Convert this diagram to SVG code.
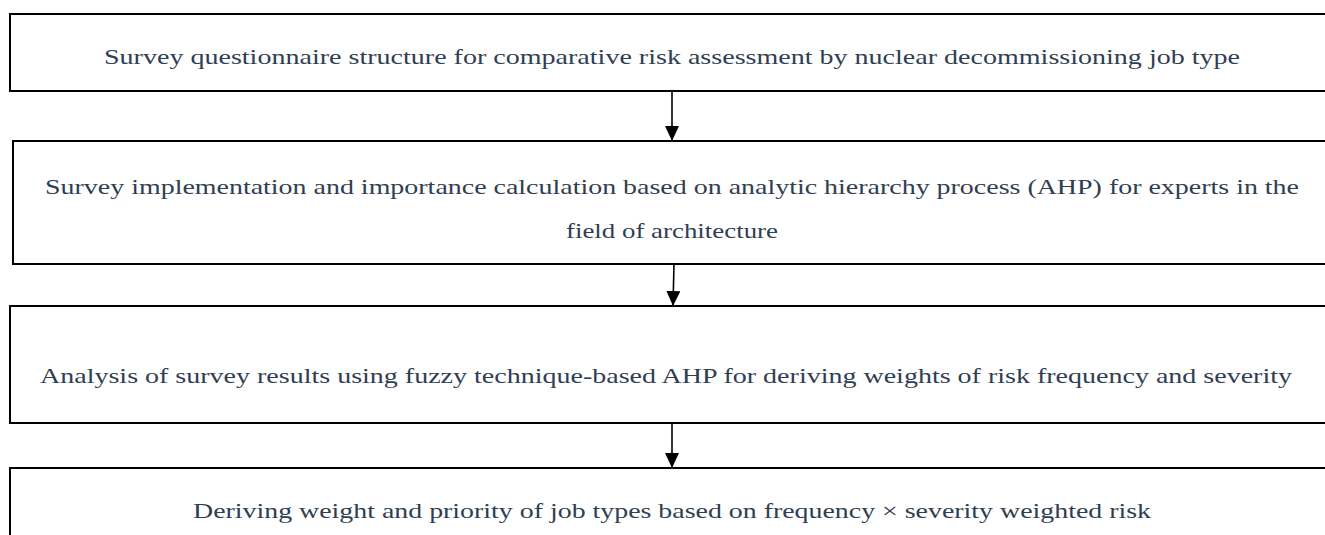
<svg xmlns="http://www.w3.org/2000/svg" width="1325" height="535" viewBox="0 0 1325 535">
  <style>
    .box { fill: #ffffff; stroke: #000000; stroke-width: 2; }
    .label { font-family: "Liberation Serif", "Times New Roman", serif; font-size: 22px; fill: #2f3e52; text-anchor: middle; }
    .link { stroke: #000000; stroke-width: 1.6; fill: none; marker-end: url(#head); }
  </style>
  <defs>
    <!-- filled triangular arrowhead, tip at the end of the line -->
    <marker id="head" viewBox="0 0 15 14" refX="15" refY="7" markerWidth="15" markerHeight="14" markerUnits="userSpaceOnUse" orient="auto">
      <path d="M0,0 L15,7 L0,14 Z" fill="#000000"/>
    </marker>
  </defs>
  <rect width="1325" height="535" fill="#ffffff"/>

  <g id="step1">
    <rect class="box" x="10" y="14" width="1330" height="77"/>
    <text class="label" x="672" y="64" textLength="1136" lengthAdjust="spacingAndGlyphs">Survey questionnaire structure for comparative risk assessment by nuclear decommissioning job type</text>
  </g>

  <g id="step2">
    <rect class="box" x="13" y="141" width="1330" height="123"/>
    <text class="label" x="672" y="194" textLength="1254" lengthAdjust="spacingAndGlyphs">Survey implementation and importance calculation based on analytic hierarchy process (AHP) for experts in the</text>
    <text class="label" x="672" y="238" textLength="212" lengthAdjust="spacingAndGlyphs">field of architecture</text>
  </g>

  <g id="step3">
    <rect class="box" x="10" y="306" width="1330" height="117"/>
    <text class="label" x="666" y="383" textLength="1252" lengthAdjust="spacingAndGlyphs">Analysis of survey results using fuzzy technique-based AHP for deriving weights of risk frequency and severity</text>
  </g>

  <g id="step4">
    <rect class="box" x="10" y="468" width="1330" height="90"/>
    <text class="label" x="672" y="518" textLength="958" lengthAdjust="spacingAndGlyphs">Deriving weight and priority of job types based on frequency × severity weighted risk</text>
  </g>

  <g id="connectors">
    <line class="link" x1="672" y1="91" x2="672" y2="141"/>
    <line class="link" x1="674" y1="264" x2="673" y2="306"/>
    <line class="link" x1="672" y1="423" x2="672" y2="468"/>
  </g>
</svg>
